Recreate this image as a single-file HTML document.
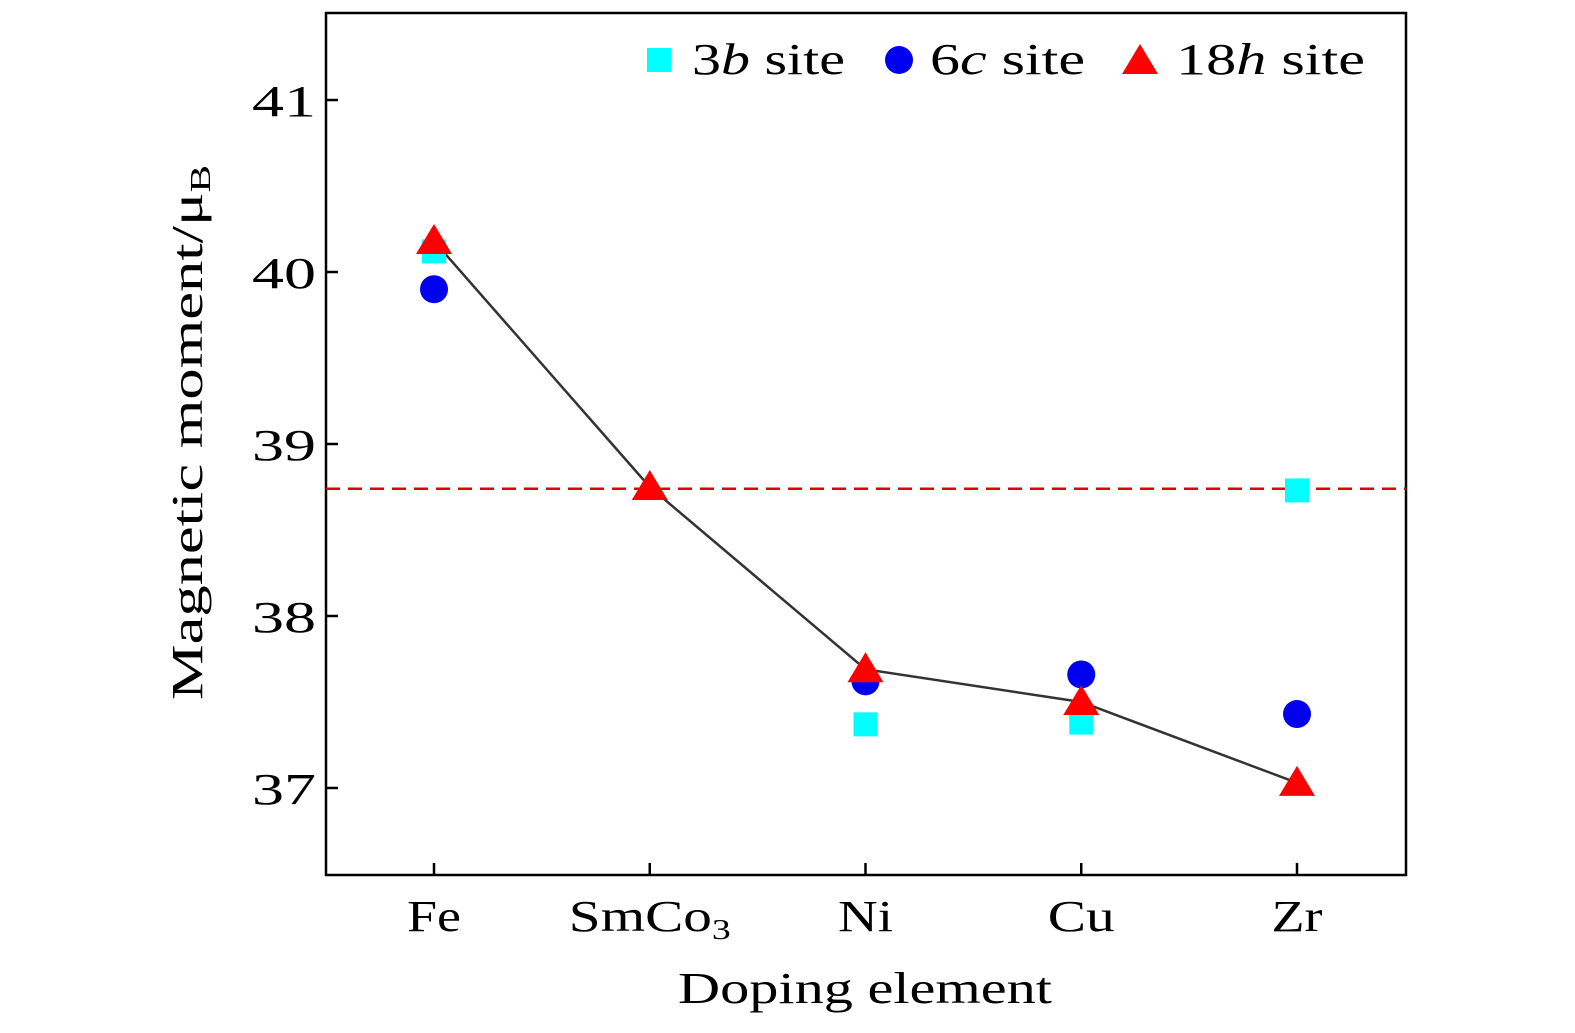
<!DOCTYPE html>
<html><head><meta charset="utf-8"><style>
html,body{margin:0;padding:0;background:#fff;}
svg{display:block;font-family:"Liberation Serif",serif;}
</style></head><body>
<svg id="chart" width="1575" height="1033" viewBox="0 0 1575 1033">
<rect x="326" y="13" width="1080" height="862" fill="none" stroke="#000" stroke-width="2.5"/>
<g id="ticks"></g>
<g id="marks"></g>
<text x="678" y="1003" font-size="44" textLength="374" lengthAdjust="spacingAndGlyphs">Doping element</text>
<text transform="translate(202,700) rotate(-90)" font-size="44" textLength="535" lengthAdjust="spacingAndGlyphs">Magnetic moment/μ<tspan font-size="29" dy="8">B</tspan></text>
<g>
<rect x="647" y="48" width="24" height="24" fill="#00ffff"/>
<text x="692" y="74" font-size="44" textLength="153" lengthAdjust="spacingAndGlyphs">3<tspan font-style="italic">b</tspan> site</text>
<circle cx="899" cy="60" r="14" fill="#0000ee"/>
<text x="930" y="74" font-size="44" textLength="155" lengthAdjust="spacingAndGlyphs">6<tspan font-style="italic">c</tspan> site</text>
<polygon points="1140,44 1158,74 1122,74" fill="#ff0000"/>
<text x="1176" y="74" font-size="44" textLength="189" lengthAdjust="spacingAndGlyphs">18<tspan font-style="italic">h</tspan> site</text>
</g>
</svg>
<script>
const categories=["Fe","SmCo3","Ni","Cu","Zr"];
const yTicks=[37,38,39,40,41];
const site3b=[40.12,null,37.37,37.38,38.73];
const site6c=[39.9,null,37.62,37.66,37.43];
const site18h=[40.18,38.75,37.69,37.5,37.03];
const refLine=38.74;
const NS="http://www.w3.org/2000/svg";
const X0=326,X1=1406,Y0=13,Y1=875,YMIN=36.494,YMAX=41.506;
const xLabelW=[54,162,55,67,51];
function xs(i){return 434+i*215.75;}
function ys(v){return Y1-(v-YMIN)/(YMAX-YMIN)*(Y1-Y0);}
function mk(tag,attrs,parent){const e=document.createElementNS(NS,tag);for(const k in attrs)e.setAttribute(k,attrs[k]);parent.appendChild(e);return e;}
const tg=document.getElementById('ticks'),mg=document.getElementById('marks');
yTicks.forEach(t=>{const y=ys(t);
 const l=mk('line',{x1:X0,x2:X0+12,y1:y,y2:y,stroke:'#000','stroke-width':2.5},tg);
 
 
 const tx=mk('text',{x:252,y:y+16,'font-size':44,textLength:64,lengthAdjust:'spacingAndGlyphs'},tg);tx.textContent=t;
 
 
});
categories.forEach((c,i)=>{const x=xs(i);
 const l=mk('line',{x1:x,x2:x,y1:Y1,y2:Y1-12,stroke:'#000','stroke-width':2.5},tg);
 
 
 const w=xLabelW[i];
 const tx=mk('text',{x:x-w/2,y:931,'font-size':44,textLength:w,lengthAdjust:'spacingAndGlyphs'},tg);
 if(c==="SmCo3"){tx.textContent="SmCo";const s=mk('tspan',{'font-size':29,dy:8},tx);s.textContent="3";}
 else tx.textContent=c;
 
 
});
const dl=mk('line',{x1:X0,x2:X1,y1:ys(refLine),y2:ys(refLine),stroke:'#e00000','stroke-width':2.5,'stroke-dasharray':'14,8'},mg);


const pl=mk('polyline',{points:site18h.map((v,i)=>xs(i)+','+ys(v)).join(' '),fill:'none',stroke:'#333','stroke-width':2.5},mg);


site3b.forEach((v,i)=>{if(v==null)return;const r=mk('rect',{x:xs(i)-12,y:ys(v)-12,width:24,height:24,fill:'#00ffff'},mg);
 
 });
site6c.forEach((v,i)=>{if(v==null)return;const c=mk('circle',{cx:xs(i),cy:ys(v),r:14,fill:'#0000ee'},mg);
 
 });
site18h.forEach((v,i)=>{const x=xs(i),y=ys(v);const p=mk('polygon',{points:`${x},${y-17} ${x+18},${y+13} ${x-18},${y+13}`,fill:'#ff0000'},mg);
 
 });
</script>
</body></html>
